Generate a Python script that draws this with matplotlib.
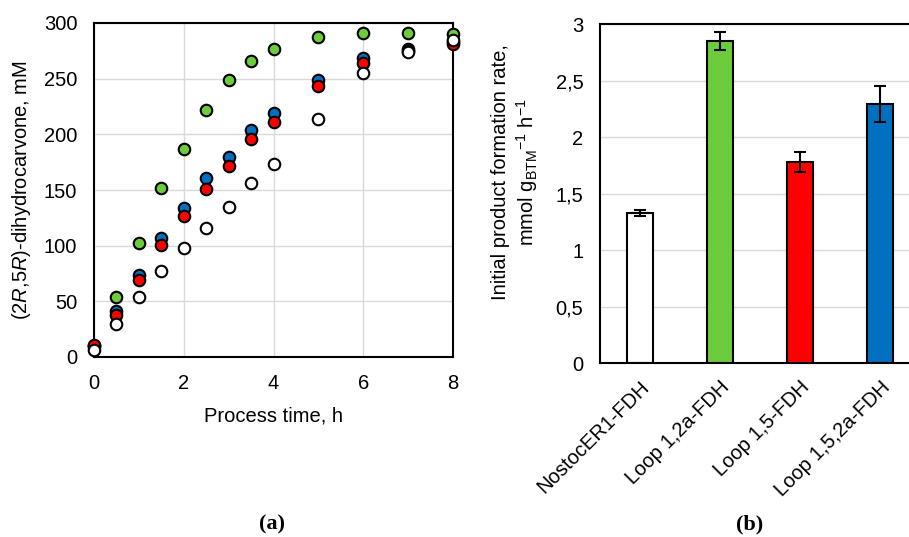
import matplotlib
matplotlib.use("Agg")
import matplotlib.pyplot as plt

plt.rcParams['font.family'] = ['Liberation Sans', 'DejaVu Sans']
plt.rcParams['mathtext.fontset'] = 'custom'
plt.rcParams['mathtext.rm'] = 'Liberation Sans'
plt.rcParams['mathtext.it'] = 'Liberation Sans:italic'

# ---- panel (a) data ----
time_h = [0, 0.5, 1, 1.5, 2, 2.5, 3, 3.5, 4, 5, 6, 7, 8]
loop12a = [10, 54, 102, 152, 187, 222, 249, 266, 277, 287, 291, 291, 290]
loop152a = [10, 41, 74, 107, 134, 161, 180, 204, 219, 249, 269, 277, 283]
loop15 = [11, 38, 69, 101, 127, 151, 172, 196, 211, 243, 264, 275, 281]
nostoc = [6.5, 30, 54, 77, 98, 116, 135, 156, 173, 214, 255, 274, 285]

# ---- panel (b) data ----
strains = ['NostocER1-FDH', 'Loop 1,2a-FDH', 'Loop 1,5-FDH', 'Loop 1,5,2a-FDH']
rates = [1.33, 2.85, 1.78, 2.29]
rate_err = [0.025, 0.078, 0.09, 0.16]

c_white = '#FFFFFF'
c_green = '#6CCC3C'
c_red = '#FF0000'
c_blue = '#0070C0'
grid_c = '#D9D9D9'

TICK_FS = 14.5
LAB_FS = 14.5

fig = plt.figure(figsize=(9.09, 5.37), dpi=100)

# ---------- (a) ----------
ax1 = fig.add_axes([94/909, 1-357/537, 359/909, 334/537])
ax1.set_xlim(0, 8)
ax1.set_ylim(0, 300)
ax1.set_xticks([0, 2, 4, 6, 8])
ax1.set_yticks([0, 50, 100, 150, 200, 250, 300])
ax1.grid(True, color=grid_c, lw=1)
ax1.set_axisbelow(True)
for s in ax1.spines.values():
    s.set_linewidth(1.5)
    s.set_color('black')
ax1.tick_params(length=0, labelsize=TICK_FS, pad=12)
for ys, col in [(loop12a, c_green), (loop152a, c_blue), (loop15, c_red), (nostoc, c_white)]:
    ax1.plot(time_h, ys, linestyle='none', marker='o', ms=8.3, mfc=col,
             mec='black', mew=1.5, clip_on=False, zorder=3)
ax1.set_xlabel('Process time, h', fontsize=LAB_FS, labelpad=10)
ax1.set_ylabel('(2$\\it{R}$,5$\\it{R}$)-dihydrocarvone, mM', fontsize=LAB_FS, labelpad=8)

# ---------- (b) ----------
ax2 = fig.add_axes([600/909, 1-363.3/537, 320/909, 339.3/537])
ax2.set_xlim(-0.5, 3.5)
ax2.set_ylim(0, 3)
ax2.set_yticks([0, 0.5, 1, 1.5, 2, 2.5, 3])
ax2.set_yticklabels(['0', '0,5', '1', '1,5', '2', '2,5', '3'])
ax2.yaxis.grid(True, color=grid_c, lw=1)
ax2.set_axisbelow(True)
for s in ax2.spines.values():
    s.set_linewidth(1.5)
    s.set_color('black')
ax2.spines['right'].set_visible(False)
xpos = list(range(len(strains)))
ax2.bar(xpos, rates, width=0.325, color=[c_white, c_green, c_red, c_blue],
        edgecolor='black', linewidth=1.5, zorder=2)
ax2.errorbar(xpos, rates, yerr=rate_err, fmt='none', ecolor='black',
             elinewidth=1.5, capsize=4, capthick=1.5, zorder=3)
ax2.set_xticks(xpos)
ax2.set_xticklabels(strains, rotation=45, ha='right', va='top',
                    rotation_mode='anchor', fontsize=TICK_FS)
ax2.tick_params(length=0, labelsize=TICK_FS, pad=12)
ax2.tick_params(axis='x', pad=10)

fig.text(500/909, 1-172/537, 'Initial product formation rate,', rotation=90,
         ha='center', va='center', fontsize=LAB_FS)
fig.text(527/909, 1-172/537,
         'mmol g$_{\\mathregular{BTM}}$$^{\\mathregular{-1}}$ h$^{\\mathregular{-1}}$',
         rotation=90, ha='center', va='center', fontsize=LAB_FS)

fig.text(272/909, 1-524/537, '(a)', ha='center', va='center', fontsize=16,
         fontweight='bold', family=['Liberation Serif'])
fig.text(750/909, 1-524/537, '(b)', ha='center', va='center', fontsize=16,
         fontweight='bold', family=['Liberation Serif'])

fig.savefig('out.png', dpi=100)
